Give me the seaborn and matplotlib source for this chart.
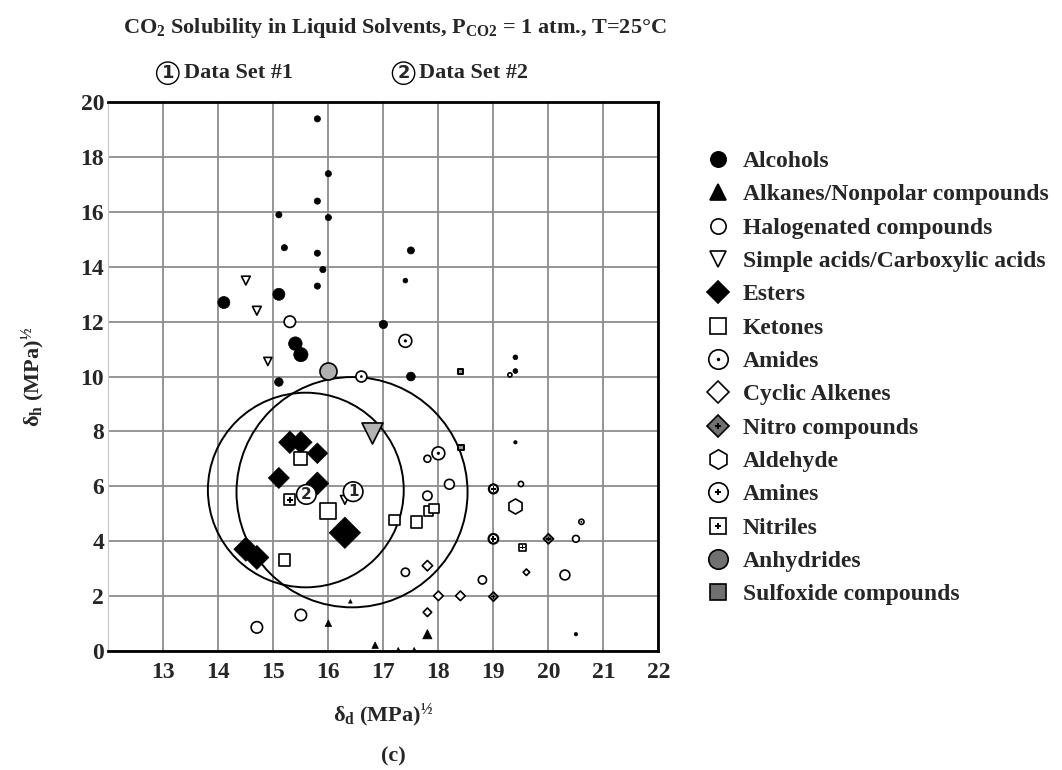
import numpy as np
import pandas as pd
import matplotlib
matplotlib.use("Agg")
import matplotlib.pyplot as plt
import seaborn as sns
from matplotlib.lines import Line2D
from matplotlib.patches import Ellipse

# ---------------- data ----------------
alc_x = [15.8, 16.0, 15.8, 15.1, 16.0, 15.2, 15.8, 15.9, 15.8, 14.1, 15.1, 17.0, 15.4, 15.5, 15.1, 17.5, 17.5, 17.4, 19.4, 19.4, 19.4, 20.5]
alc_y = [19.4, 17.4, 16.4, 15.9, 15.8, 14.7, 14.5, 13.9, 13.3, 12.7, 13.0, 11.9, 11.2, 10.8, 9.8, 10.0, 14.6, 13.5, 10.7, 10.2, 7.6, 0.6]
alc_s = [20, 20, 20, 20, 20, 20, 20, 20, 20, 75, 75, 36, 95, 105, 38, 40, 26, 12, 12, 12, 6, 6]

alk_x = [16.0, 16.4, 16.85, 17.8, 17.27, 17.56]
alk_y = [1.0, 1.8, 0.2, 0.6, 0.05, 0.05]
alk_s = [22, 7, 22, 45, 7, 7]

hal_x = [15.3, 14.7, 15.5, 17.8, 18.2, 17.8, 17.4, 18.8, 20.3, 20.5, 19.5, 19.3]
hal_y = [12.0, 0.85, 1.3, 5.65, 6.07, 7.0, 2.86, 2.58, 2.76, 4.08, 6.08, 10.06]
hal_s = [68, 68, 68, 45, 50, 25, 35, 35, 50, 24, 14, 9]

acid_x = [14.5, 14.7, 14.9, 16.3]
acid_y = [13.5, 12.4, 10.55, 5.5]
acid_s = [40, 40, 34, 40]
acid_grey_x = [16.8]
acid_grey_y = [7.95]
acid_grey_s = [230]

est_x = [15.3, 15.5, 15.8, 15.1, 15.8, 16.3, 14.5, 14.7]
est_y = [7.6, 7.6, 7.2, 6.3, 6.1, 4.3, 3.7, 3.4]
est_s = [130, 130, 110, 115, 135, 255, 150, 150]

ket_x = [15.5, 16.0, 15.2, 17.2, 17.6, 17.82, 17.92]
ket_y = [7.0, 5.1, 3.3, 4.77, 4.69, 5.1, 5.18]
ket_s = [85, 135, 68, 55, 70, 45, 45]

amd_x = [17.4, 18.0, 16.6, 20.6]
amd_y = [11.3, 7.2, 10.0, 4.7]
amd_s = [85, 85, 62, 14]

cyc_x = [17.8, 18.0, 18.4, 17.8, 19.6]
cyc_y = [3.1, 2.0, 2.0, 1.4, 2.86]
cyc_s = [28, 24, 24, 19, 11]

nit_x = [19.0, 20.0]
nit_y = [1.97, 4.08]
nit_s = [22, 27]

ald_x = [19.4]
ald_y = [5.28]
ald_s = [118]

ami_x = [19.0, 19.0]
ami_y = [5.9, 4.08]
ami_s = [42, 48]

ntl_x = [15.3, 19.53]
ntl_y = [5.5, 3.77]
ntl_s = [62, 27]

anh_x = [16.0]
anh_y = [10.2]
anh_s = [150]

sulf_x = [18.4, 18.41]
sulf_y = [10.18, 7.41]
sulf_s = [15, 15]

set_labels = ["1", "2"]
set_x = [16.45, 15.6]
set_y = [5.8, 5.7]

# solubility circles (center, half-width in δd, half-height in δh)
circ_cx = [16.43, 15.59]
circ_cy = [5.78, 5.86]
circ_rx = [2.1, 1.78]
circ_ry = [4.2, 3.55]

legend_labels = ["Alcohols", "Alkanes/Nonpolar compounds", "Halogenated compounds",
                 "Simple acids/Carboxylic acids", "Esters", "Ketones", "Amides",
                 "Cyclic Alkenes", "Nitro compounds", "Aldehyde", "Amines", "Nitriles",
                 "Anhydrides", "Sulfoxide compounds"]

x_ticks = [13, 14, 15, 16, 17, 18, 19, 20, 21, 22]
y_ticks = [0, 2, 4, 6, 8, 10, 12, 14, 16, 18, 20]

# ---------------- style ----------------
sns.set_theme(style="white")
SERIF = ["Liberation Serif", "DejaVu Serif"]
plt.rcParams["font.family"] = SERIF
plt.rcParams["font.weight"] = "bold"
plt.rcParams["mathtext.default"] = "regular"

fig = plt.figure(figsize=(10.62, 7.70), dpi=100)
ax = fig.add_axes([0.102, 0.155, 0.518, 0.712])

GREY = "#8c8c8c"
EW = 1.2


def sc(x, y, s, marker, fc, ec="black", lw=EW, z=3):
    df = pd.DataFrame({"x": x, "y": y})
    sns.scatterplot(data=df, x="x", y="y", s=np.array(s, dtype=float), marker=marker,
                    facecolor=fc, edgecolor=ec, linewidth=lw, ax=ax, zorder=z, legend=False)


# circles
for cx, cy, rx, ry in zip(circ_cx, circ_cy, circ_rx, circ_ry):
    ax.add_patch(Ellipse((cx, cy), 2 * rx, 2 * ry, fill=False, edgecolor="black", lw=1.4, zorder=2))

sc(alc_x, alc_y, alc_s, "o", "black", lw=0.5)
sc(alk_x, alk_y, alk_s, "^", "black", lw=0.5)
sc(hal_x, hal_y, hal_s, "o", "white")
sc(acid_x, acid_y, acid_s, "v", "white")
sc(acid_grey_x, acid_grey_y, acid_grey_s, "v", "#b3b3b3")
sc(est_x, est_y, est_s, "D", "black", lw=0.5)
sc(ket_x, ket_y, ket_s, "s", "white")
sc(amd_x, amd_y, amd_s, "o", "white")
sc(amd_x, amd_y, [max(2.0, v * 0.06) for v in amd_s], "o", "black", lw=0, z=4)
sc(cyc_x, cyc_y, cyc_s, "D", "white")
sc(nit_x, nit_y, nit_s, "D", "#707070")
sc(nit_x, nit_y, [v * 0.4 for v in nit_s], "P", "black", lw=0, z=4)
sc(ald_x, ald_y, ald_s, "h", "white")
sc(ami_x, ami_y, ami_s, "o", "white", lw=1.6)
sc(ami_x, ami_y, [v * 0.35 for v in ami_s], "P", "black", lw=0, z=4)
sc(ntl_x, ntl_y, ntl_s, "s", "white")
sc(ntl_x, ntl_y, [v * 0.35 for v in ntl_s], "P", "black", lw=0, z=4)
sc(anh_x, anh_y, anh_s, "o", "#b0b0b0")
sc(sulf_x, sulf_y, sulf_s, "s", "#9a9a9a", lw=1.4)

for lab, x, y in zip(set_labels, set_x, set_y):
    ax.text(x, y, lab, ha="center", va="center", fontsize=11, fontweight="bold",
            family=["DejaVu Sans"], zorder=6,
            bbox=dict(boxstyle="circle,pad=0.15", fc="white", ec="black", lw=1.2))

# axes
ax.set_xlim(12, 22)
ax.set_ylim(0, 20)
ax.set_xticks(x_ticks)
ax.set_yticks(y_ticks)
ax.set_xticklabels([str(t) for t in x_ticks])
ax.set_yticklabels([str(t) for t in y_ticks])
ax.tick_params(length=0, labelsize=17)
for lbl in ax.get_xticklabels() + ax.get_yticklabels():
    lbl.set_fontweight("bold")
ax.tick_params(axis="y", pad=3)
ax.tick_params(axis="x", pad=8)
ax.grid(True, color=GREY, lw=1.3)
ax.set_axisbelow(True)
for side in ["top", "right", "bottom"]:
    ax.spines[side].set_color("black")
    ax.spines[side].set_linewidth(2.0)
ax.spines["left"].set_color("#c8c8c8")
ax.spines["left"].set_linewidth(0.8)

ax.set_xlabel(r"δ$_d$ (MPa)$^{½}$", fontsize=16, fontweight="bold", labelpad=14)
ax.set_ylabel(r"δ$_h$ (MPa)$^{½}$", fontsize=16, fontweight="bold", labelpad=24)

# titles
fig.text(0.372, 0.963, r"CO$_2$ Solubility in Liquid Solvents, P$_{CO2}$ = 1 atm., T=25°C",
         ha="center", va="center", fontsize=16, fontweight="bold")
fig.text(0.158, 0.905, "1", ha="center", va="center", fontsize=13, family=["DejaVu Sans"],
         bbox=dict(boxstyle="circle,pad=0.12", fc="white", ec="black", lw=1.0))
fig.text(0.173, 0.905, "Data Set #1", ha="left", va="center", fontsize=16, fontweight="bold")
fig.text(0.380, 0.905, "2", ha="center", va="center", fontsize=13, family=["DejaVu Sans"],
         bbox=dict(boxstyle="circle,pad=0.12", fc="white", ec="black", lw=1.0))
fig.text(0.395, 0.905, "Data Set #2", ha="left", va="center", fontsize=16, fontweight="bold")
fig.text(0.370, 0.018, "(c)", ha="center", va="center", fontsize=16, fontweight="bold")

# legend
def L(marker, fc, ms, ec="black", mew=1.2):
    return Line2D([], [], ls="none", marker=marker, markerfacecolor=fc, markeredgecolor=ec,
                  markersize=ms, markeredgewidth=mew)

handles = [
    L("o", "black", 11),
    L("^", "black", 11),
    L("o", "white", 11),
    L("v", "white", 12),
    L("D", "black", 11),
    L("s", "white", 11),
    (L("o", "white", 14), L("o", "black", 2.5, mew=0)),
    L("D", "white", 11),
    (L("D", "#707070", 11), L("P", "black", 5, mew=0)),
    L("h", "white", 14),
    (L("o", "white", 14), L("P", "black", 5, mew=0)),
    (L("s", "white", 11), L("P", "black", 5, mew=0)),
    L("o", "#707070", 14),
    L("s", "#707070", 11),
]
fig.legend(handles, legend_labels, loc="upper left", bbox_to_anchor=(0.644, 0.832),
           frameon=False, labelspacing=0.50, handlelength=1.1,
           handletextpad=0.5, prop={"family": SERIF, "weight": "bold", "size": 17})

fig.savefig("out.png", dpi=100)
